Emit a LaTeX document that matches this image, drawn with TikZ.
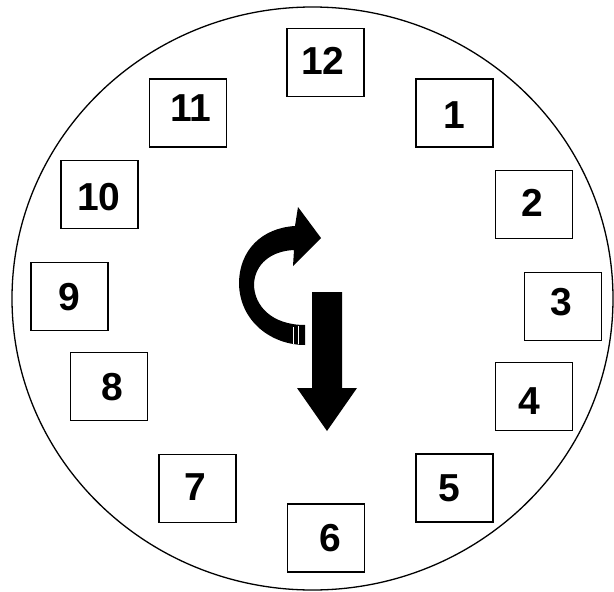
\documentclass[tikz,border=0pt]{standalone}
\usepackage{fontspec}
\setmainfont{Liberation Sans}
\begin{document}
\begin{tikzpicture}[x=1pt,y=-1pt,
  numbox/.style={draw=black,line width=1.6pt,minimum width=77pt,minimum height=68pt,inner sep=0pt},
  numtext/.style={font=\fontsize{39}{40}\selectfont\bfseries,inner sep=0pt}]
\useasboundingbox (0,0) rectangle (614,592);
\fill[white] (0,0) rectangle (614,592);
\draw[line width=1.3pt] (312.5,298.5) ellipse (300.5 and 291.5);
% boxes
\foreach \n/\bx/\by/\tx/\ty in {12/325.5/62.5/323/61, 11/188/113/191/108, 1/454.5/113/454/115,
  10/99.5/194.5/99/197, 2/534/204.5/532/203, 9/69.5/296.5/69/297, 3/563/306.5/561/302,
  8/109/386.5/112/387, 4/534/396.5/529/401, 7/197.5/488.5/195/487, 5/454.5/488/449/488,
  6/326/538/330/538}{
  \node[numbox] (b\n) at (\bx,\by) {};
  \node[numtext] (t\n) at (\tx,\ty) {\n};
}
% curved arrow
\fill[black] (305,325) .. controls (272,325) and (254,306) .. (254,284)
  .. controls (255,264) and (271,251) .. (294,250)
  -- (293,266) -- (321,238) -- (298,207) -- (295,226)
  .. controls (262,228) and (239,250) .. (239,284)
  .. controls (240,322) and (272,345) .. (305,345) -- cycle;
\draw[white,line width=0.8pt] (293.5,327) -- (293.5,344);
\draw[white,line width=0.8pt] (298,326) -- (298,344);
% straight arrow
\fill[black] (312,292) -- (342,292) -- (342,388) -- (357,388) -- (327,431)
  -- (297,388) -- (312,388) -- cycle;
\end{tikzpicture}
\end{document}
